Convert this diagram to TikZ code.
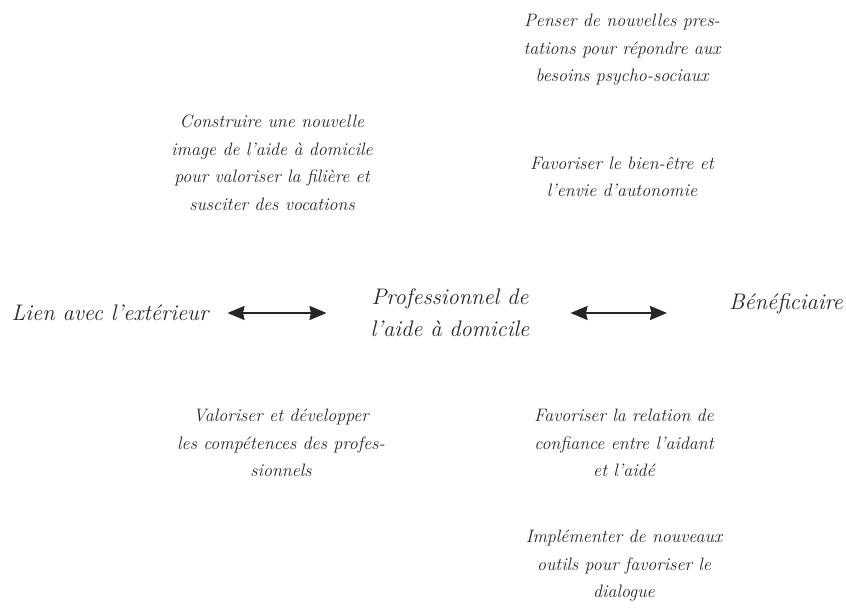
\documentclass[tikz,border=0pt]{standalone}
\usepackage{fontspec}
\usetikzlibrary{positioning, arrows.meta}

\begin{document}
\begin{tikzpicture}[
    x=1pt, y=-1pt,
    every node/.style={align=center, inner sep=0pt, text=black!85, font=\itshape\fontsize{18}{27.5}\selectfont},
    main/.style={font=\itshape\fontsize{22.5}{32}\selectfont},
    link/.style={{Stealth[length=17pt,width=14pt,inset=1.5pt]}-{Stealth[length=17pt,width=14pt,inset=1.5pt]}, line width=2pt, draw=black!85}
]
\useasboundingbox (0,0) rectangle (846,612);

% central row
\node (pro) [main] at (450,313) {Professionnel de\\l'aide à domicile};
\node (ext) [main] at (110,313) {Lien avec l'extérieur};
\node (benef) [main] at (786,304) {Bénéficiaire};

\draw[link, shorten <=19pt, shorten >=44pt] (ext.east) -- (pro.west);
\draw[link, shorten <=41pt, shorten >=62pt] (pro.east) -- (pro.east -| benef.west);

% actions above
\node (prestations) at (622,50) {Penser de nouvelles pres-\\tations pour répondre aux\\besoins psycho-sociaux};
\node (bienetre) at (622,177) {Favoriser le bien-être et\\l'envie d'autonomie};
\node (image) at (272,163) {Construire une nouvelle\\image de l'aide à domicile\\pour valoriser la filière et\\susciter des vocations};

% actions below
\node (competences) at (281,443) {Valoriser et développer\\les compétences des profes-\\sionnels};
\node (confiance) at (624,443) {Favoriser la relation de\\confiance entre l'aidant\\et l'aidé};
\node (outils) at (624,566) {Implémenter de nouveaux\\outils pour favoriser le\\dialogue};

\end{tikzpicture}
\end{document}
